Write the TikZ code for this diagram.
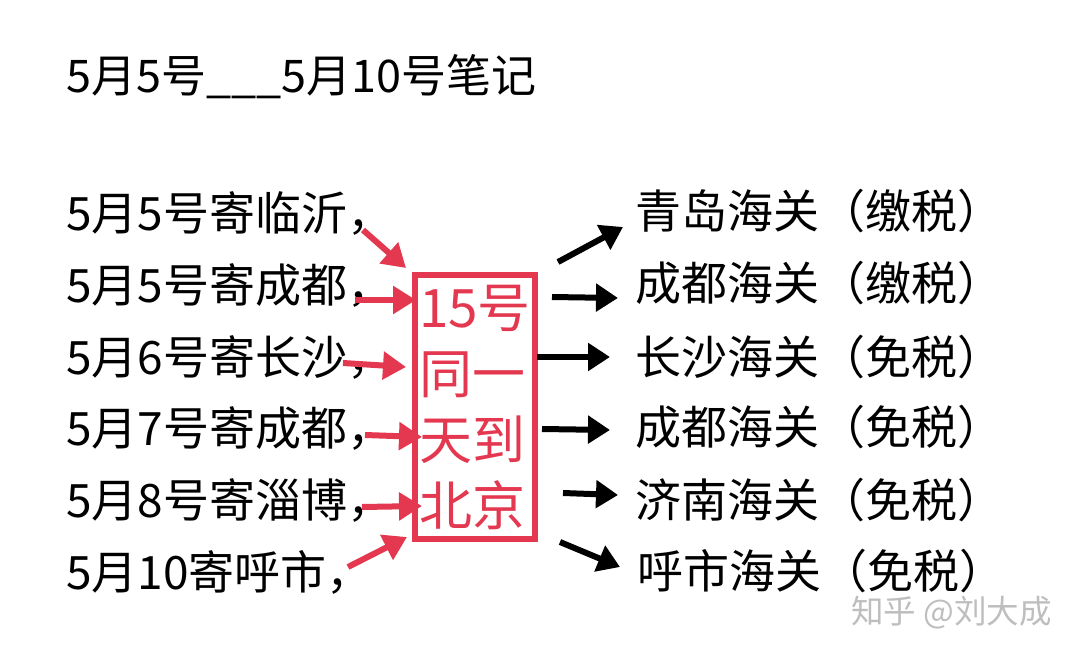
\documentclass[tikz,border=0pt]{standalone}
\usepackage{fontspec}
\newfontfamily\cjk{Noto Sans CJK SC}
\usetikzlibrary{arrows.meta}
\definecolor{redc}{RGB}{228,56,80}
\definecolor{wmark}{RGB}{190,190,190}
\tikzset{
  txt/.style={inner sep=0pt, anchor=base west, font=\cjk\fontsize{46}{50}\selectfont, text=black},
  boxtxt/.style={draw=redc, line width=6pt, inner sep=0pt, minimum width=120pt, minimum height=264pt,
    text width=112pt, align=left, text=redc, font=\cjk\fontsize{53}{66}\selectfont},
  redarrow/.style={draw=redc, line width=6pt, -{Triangle[length=23pt,width=27pt]}},
  blackarrow/.style={draw=black, line width=6pt, -{Triangle[length=22pt,width=27pt]}},
  wm/.style={inner sep=0pt, anchor=base west, font=\cjk\fontsize{32.5}{36}\selectfont, text=wmark}
}
\begin{document}
\begin{tikzpicture}[x=1pt,y=-1pt]
\fill[white] (0,0) rectangle (1080,658);
\useasboundingbox (0,0) rectangle (1080,658);
% title
\node[txt, font=\cjk\fontsize{45}{50}\selectfont] (T) at (66,93) {5月5号\_\_\_5月10号笔记};
% left column
\node[txt] (L1) at (66,231) {5月5号寄临沂，};
\node[txt] (L2) at (66,302) {5月5号寄成都，};
\node[txt] (L3) at (66,374) {5月6号寄长沙，};
\node[txt] (L4) at (66,445) {5月7号寄成都，};
\node[txt] (L5) at (66,517) {5月8号寄淄博，};
\node[txt] (L6) at (66,589) {5月10寄呼市，};
% box
\node[boxtxt] (B) at (475,407) {15号\\同一\\天到\\北京};
% right column
\node[txt] (R1) at (635,229) {青岛海关（缴税）};
\node[txt] (R2) at (635,300) {成都海关（缴税）};
\node[txt] (R3) at (635,374) {长沙海关（免税）};
\node[txt] (R4) at (635,444) {成都海关（免税）};
\node[txt] (R5) at (635,517) {济南海关（免税）};
\node[txt] (R6) at (637,588) {呼市海关（免税）};
% watermark
\node[wm] (W) at (851,623) {知乎 @刘大成};
% arrow coordinates
\coordinate (r1s) at (363,230); \coordinate (r1e) at (406,268);
\coordinate (r2s) at (355,300); \coordinate (r2e) at (416,300);
\coordinate (r3s) at (343,363); \coordinate (r3e) at (406,367);
\coordinate (r4s) at (365,435); \coordinate (r4e) at (422,437);
\coordinate (r5s) at (362,507); \coordinate (r5e) at (422,506);
\coordinate (r6s) at (348,567); \coordinate (r6e) at (407,537);
\coordinate (b1s) at (558,262); \coordinate (b1e) at (623,227);
\coordinate (b2s) at (552,297); \coordinate (b2e) at (618,298);
\coordinate (b3s) at (537,357); \coordinate (b3e) at (610,357);
\coordinate (b4s) at (542,429); \coordinate (b4e) at (610,430);
\coordinate (b5s) at (563,493); \coordinate (b5e) at (618,495);
\coordinate (b6s) at (560,542); \coordinate (b6e) at (620,567);
\foreach \i in {1,...,6} {
  \draw[redarrow] (r\i s) -- (r\i e);
  \draw[blackarrow] (b\i s) -- (b\i e);
}
\end{tikzpicture}
\end{document}
